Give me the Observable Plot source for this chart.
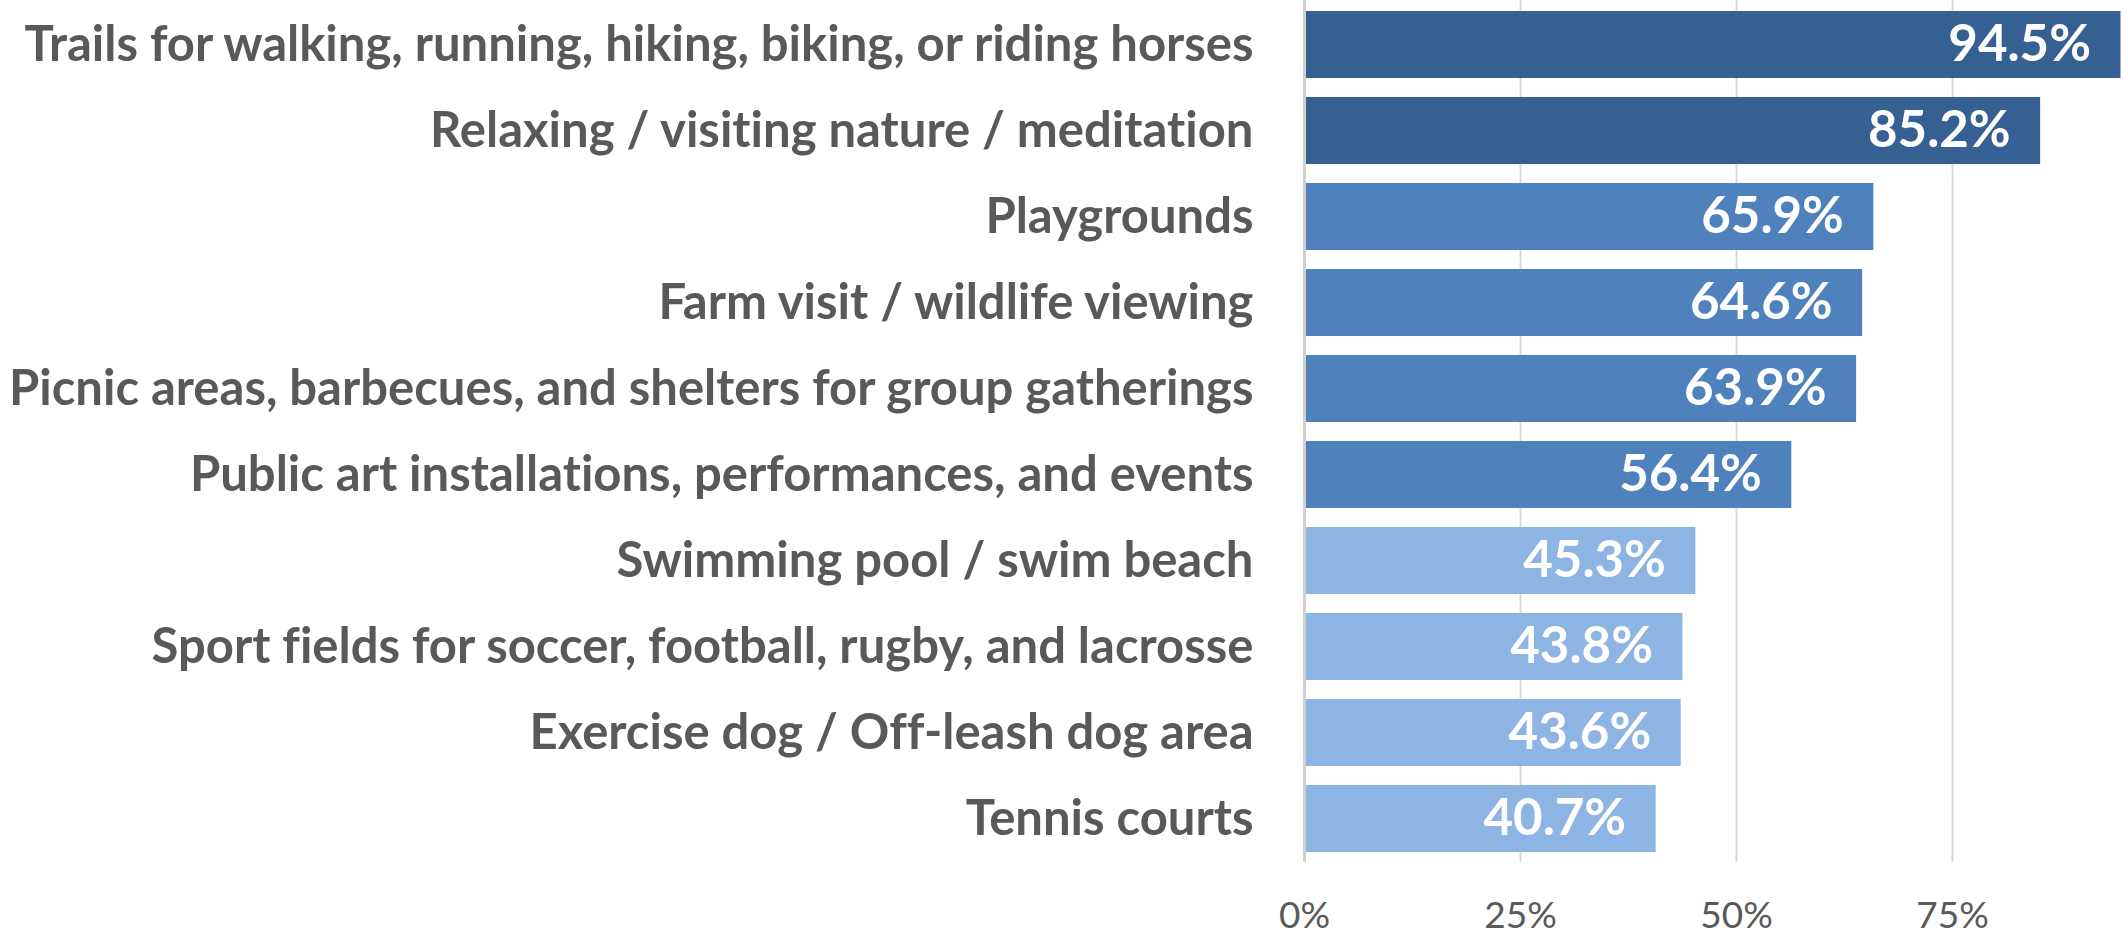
<!DOCTYPE html>
<html>
<head>
<meta charset="utf-8">
<script src="https://cdn.jsdelivr.net/npm/d3@7"></script>
<script src="https://cdn.jsdelivr.net/npm/@observablehq/plot@0.6"></script>
<style>
  html, body { margin: 0; padding: 0; background: #ffffff; overflow: hidden; }
  #chart { width: 2123px; height: 931px; overflow: hidden; }
  #chart svg text { font-variant-ligatures: none; font-feature-settings: "liga" 0; }
</style>
</head>
<body>
<div id="chart"></div>
<script>
const categories = [
  "Trails for walking, running, hiking, biking, or riding horses",
  "Relaxing / visiting nature / meditation",
  "Playgrounds",
  "Farm visit / wildlife viewing",
  "Picnic areas, barbecues, and shelters for group gatherings",
  "Public art installations, performances, and events",
  "Swimming pool / swim beach",
  "Sport fields for soccer, football, rugby, and lacrosse",
  "Exercise dog / Off-leash dog area",
  "Tennis courts"
];
const values = [94.5, 85.2, 65.9, 64.6, 63.9, 56.4, 45.3, 43.8, 43.6, 40.7];
const tiers = ["top", "top", "middle", "middle", "middle", "middle", "lower", "lower", "lower", "lower"];
const xTicks = [0, 25, 50, 75, 100];

const data = categories.map((c, i) => ({category: c, value: values[i], tier: tiers[i]}));

const chart = Plot.plot({
  width: 2123,
  height: 931,
  marginTop: 0,
  marginBottom: 69,
  marginLeft: 0,
  marginRight: 0,
  style: {fontFamily: "Lato, 'Open Sans', sans-serif", background: "#ffffff", overflow: "hidden"},
  x: {domain: [0, 100], range: [1304, 2168]},
  y: {domain: categories, paddingInner: 0.221, paddingOuter: 0.116, axis: null},
  color: {domain: ["top", "middle", "lower"], range: ["#376092", "#4f81bd", "#8eb4e3"]},
  marks: [
    Plot.ruleX(xTicks.filter(d => d > 0), {stroke: "#d9d9d9", strokeWidth: 2}),
    Plot.barX(data, {x: "value", y: "category", fill: "tier"}),
    Plot.ruleX([0], {stroke: "#d0d0d0", strokeWidth: 3}),
    Plot.text(data, {
      x: d => 0, y: "category", text: "category",
      textAnchor: "end", dx: -51, fill: "#595959",
      fontWeight: "bold", fontSize: 49
    }),
    Plot.text(data, {
      x: "value", y: "category", text: d => d.value.toFixed(1) + "%",
      textAnchor: "end", dx: -30, fill: "#ffffff",
      fontWeight: "bold", fontSize: 51
    }),
    Plot.axisX({
      ticks: xTicks, tickFormat: d => d + "%", tickSize: 0, tickPadding: 39,
      fontSize: 37, color: "#595959", label: null
    })
  ]
});
document.getElementById("chart").appendChild(chart);
</script>
</body>
</html>
